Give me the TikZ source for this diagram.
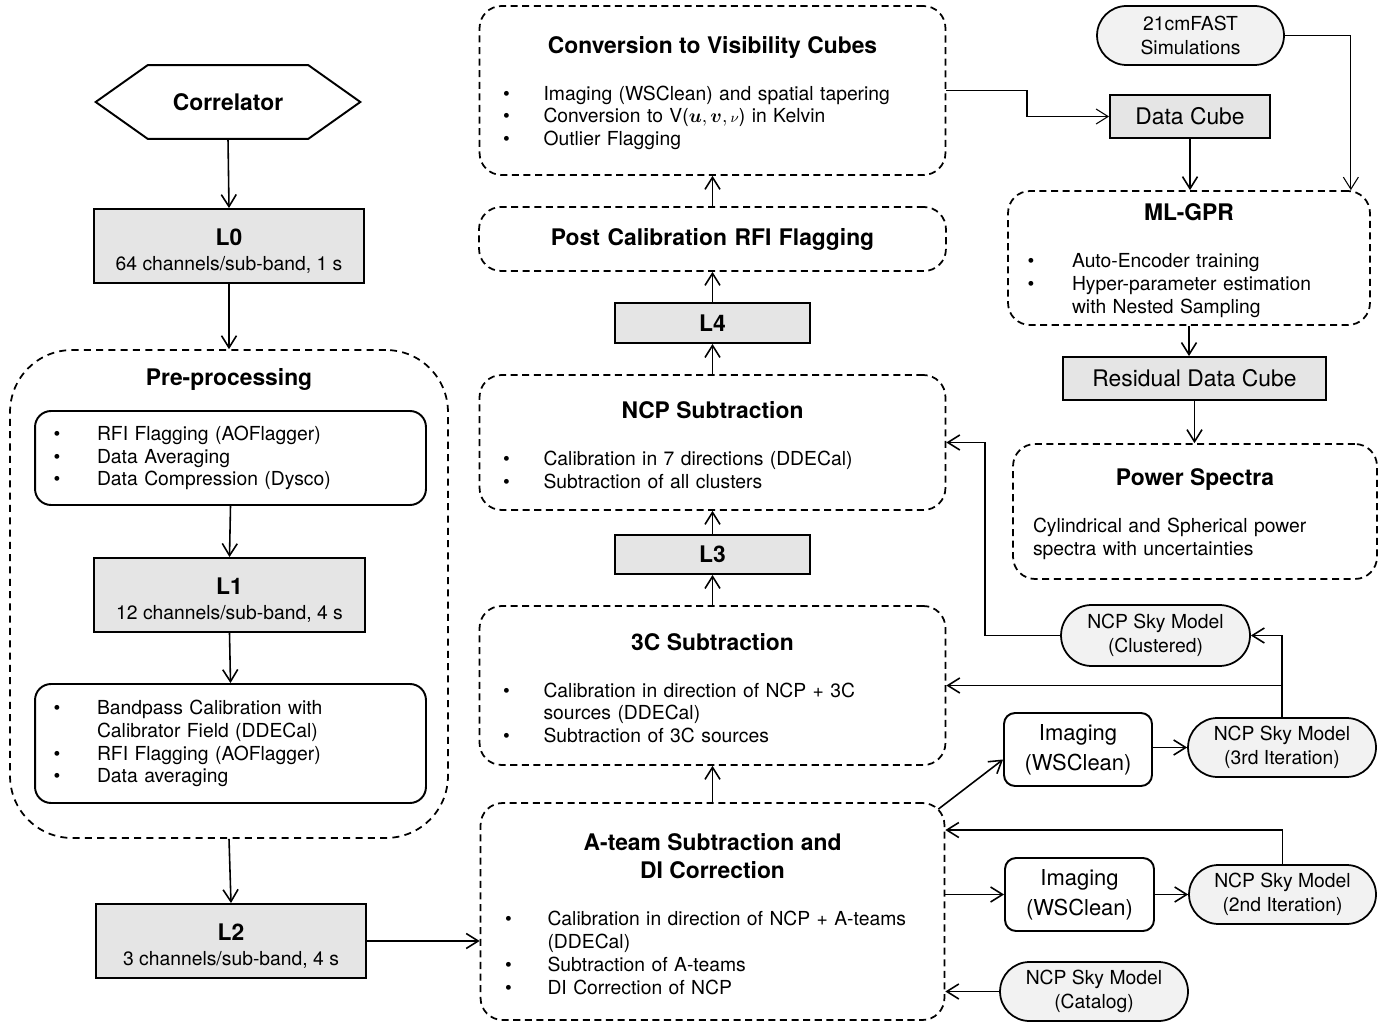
\documentclass[tikz,border=0pt]{standalone}
\usepackage{amsmath,bm}
\usepackage{fontspec}
\setmainfont{TeX Gyre Heros}
\usetikzlibrary{arrows.meta,shapes.misc,calc}

\newlength\bulind \setlength\bulind{0.47cm}
\newlength\bulgap \setlength\bulgap{0.81cm}
\newcommand{\ttlfont}{\fontsize{13}{16}\selectfont\bfseries}
\newcommand{\boxhead}[1]{\makebox[\linewidth]{\ttlfont\rule{0pt}{12.8pt}#1}}
\newcommand{\itm}[1]{\hspace*{\bulind}\makebox[\bulgap][l]{\textbullet}#1}
\newcommand{\contline}[1]{\hspace*{\bulind}\hspace*{\bulgap}#1}

\begin{document}
\begin{tikzpicture}[x=0.02cm, y=-0.02cm,
        font=\fontsize{11}{13}\selectfont,
        stage/.style = {draw, line width=1pt, dash pattern=on 4pt off 2.6pt, rounded corners=0.44cm, inner sep=0pt, align=left},
        level/.style = {draw, fill=gray!20, line width=1.1pt, inner sep=0pt, align=center},
        substep/.style = {draw, line width=1.1pt, rounded corners=0.32cm, inner sep=0pt, align=left},
        imager/.style = {draw, line width=1.1pt, rounded corners=0.22cm, inner sep=0pt, align=center, font=\fontsize{12.5}{17}\selectfont},
        skymodel/.style = {rounded rectangle, draw, fill=gray!10, line width=1pt, inner sep=0pt, align=center, font=\fontsize{11}{13.6}\selectfont},
        flow/.style = {-{Straight Barb[length=2.4mm,width=3mm]}, line width=0.9pt},
        thinflow/.style = {flow, line width=0.6pt}]
        \useasboundingbox (0,0) rectangle (1389,1026);

        % Correlator and pre-processing
        \node[minimum width=5.28cm, minimum height=1.46cm, inner sep=0pt, font=\ttlfont] (corr) at (228,102) {Correlator};
        \draw[line width=1.1pt] (corr.west) -- ([xshift=1.04cm]corr.north west) -- ([xshift=-1.04cm]corr.north east)
            -- (corr.east) -- ([xshift=-1.04cm]corr.south east) -- ([xshift=1.04cm]corr.south west) -- cycle;
        \node[level, minimum width=5.4cm, minimum height=1.48cm] (L0) at (229,246) {{\ttlfont\rule{0pt}{15pt}L0}\\[1.2pt]64 channels/sub-band, 1 s};

        \node[stage, rounded corners=1.24cm, dash pattern=on 4pt off 3pt, minimum width=8.76cm, minimum height=9.76cm] (pre) at (229,594) {};
        \node[font=\ttlfont] (pretitle) at (229,379) {Pre-processing};
        \node[substep, text width=7.82cm, minimum height=1.88cm] (pre1) at (230.5,458) {\setlength\bulind{0.37cm}\setlength\bulgap{0.87cm}%
            \itm{RFI Flagging (AOFlagger)}\\ \itm{Data Averaging}\\ \itm{Data Compression (Dysco)}};
        \node[level, minimum width=5.42cm, minimum height=1.48cm] (L1) at (229.5,595) {{\ttlfont\rule{0pt}{15pt}L1}\\[1.2pt]12 channels/sub-band, 4 s};
        \node[substep, text width=7.82cm, minimum height=2.38cm] (pre2) at (230.5,743.5) {\setlength\bulind{0.37cm}\setlength\bulgap{0.87cm}%
            \itm{Bandpass Calibration with}\\ \contline{Calibrator Field (DDECal)}\\ \itm{RFI Flagging (AOFlagger)}\\ \itm{Data averaging}};
        \node[level, minimum width=5.4cm, minimum height=1.48cm] (L2) at (231,941) {{\ttlfont\rule{0pt}{15pt}L2}\\[1.2pt]3 channels/sub-band, 4 s};

        % Calibration stages
        \node[stage, text width=9.32cm, minimum height=3.38cm] (conv) at (712.5,90.5) {\boxhead{Conversion to Visibility Cubes}\\[13.6pt]
            \itm{Imaging (WSClean) and spatial tapering}\\ \itm{Conversion to V($\bm{u},\bm{v},{\scriptstyle\nu}$) in Kelvin}\\ \itm{Outlier Flagging}};
        \node[stage, text width=9.34cm, minimum height=1.28cm, align=center, font=\ttlfont] (post) at (712.5,239) {Post Calibration RFI Flagging};
        \node[level, minimum width=3.9cm, minimum height=0.8cm, font=\ttlfont] (L4) at (712.5,323) {L4};
        \node[stage, text width=9.32cm, minimum height=2.7cm] (ncp) at (712.5,442.5) {\boxhead{NCP Subtraction}\\[13.6pt]
            \itm{Calibration in 7 directions (DDECal)}\\ \itm{Subtraction of all clusters}};
        \node[level, minimum width=3.9cm, minimum height=0.78cm, font=\ttlfont] (L3) at (712.5,554.5) {L3};
        \node[stage, text width=9.32cm, minimum height=3.18cm] (c3) at (712.5,685.5) {\boxhead{3C Subtraction}\\[13.6pt]
            \itm{Calibration in direction of NCP + 3C}\\ \contline{sources (DDECal)}\\ \itm{Subtraction of 3C sources}};
        \node[stage, text width=9.28cm, minimum height=4.34cm] (ateam) at (712.5,911.5) {\setlength\bulind{0.49cm}\setlength\bulgap{0.85cm}%
            \boxhead{A-team Subtraction and}\\[2.9pt] \makebox[\linewidth]{\ttlfont DI Correction}\\[13.6pt]
            \itm{Calibration in direction of NCP + A-teams}\\ \contline{(DDECal)}\\ \itm{Subtraction of A-teams}\\ \itm{DI Correction of NCP}};

        % Signal extraction
        \node[skymodel, minimum width=3.74cm, minimum height=1.18cm] (sim) at (1190.5,35.5) {21cmFAST\\Simulations};
        \node[level, minimum width=3.2cm, minimum height=0.86cm, font=\fontsize{13}{16}\selectfont] (cube) at (1190,116.5) {Data Cube};
        \node[stage, text width=7.24cm, minimum height=2.68cm] (mlgpr) at (1189,258) {\setlength\bulind{0.39cm}\setlength\bulgap{0.89cm}%
            \boxhead{ML-GPR}\\[13.6pt] \itm{Auto-Encoder training}\\ \itm{Hyper-parameter estimation}\\ \contline{with Nested Sampling}};
        \node[level, minimum width=5.26cm, minimum height=0.86cm, font=\fontsize{13}{16}\selectfont] (resid) at (1194.5,378.5) {Residual Data Cube};
        \node[stage, text width=7.28cm, minimum height=2.7cm] (pspec) at (1195,511.5) {\boxhead{Power Spectra}\\[13.6pt]
            \hspace*{0.4cm}Cylindrical and Spherical power\\ \hspace*{0.4cm}spectra with uncertainties};

        % Sky models and imaging
        \node[skymodel, minimum width=3.78cm, minimum height=1.22cm] (skyclu) at (1155.5,635.5) {NCP Sky Model\\(Clustered)};
        \node[imager, minimum width=2.96cm, minimum height=1.46cm] (img1) at (1078,749.5) {Imaging\\(WSClean)};
        \node[skymodel, minimum width=3.76cm, minimum height=1.18cm] (sky3) at (1282,747.5) {NCP Sky Model\\(3rd Iteration)};
        \node[imager, minimum width=2.98cm, minimum height=1.46cm] (img2) at (1079.5,894.5) {Imaging\\(WSClean)};
        \node[skymodel, minimum width=3.74cm, minimum height=1.18cm] (sky2) at (1282.5,894.5) {NCP Sky Model\\(2nd Iteration)};
        \node[skymodel, minimum width=3.76cm, minimum height=1.18cm] (skycat) at (1094,991.5) {NCP Sky Model\\(Catalog)};

        % Data flow
        \draw[flow] (corr.south) -- (L0.north);
        \draw[flow] (L0.south) -- (pre.north);
        \draw[flow] (pre1.south) -- (L1.north);
        \draw[flow] (L1.south) -- (pre2.north);
        \draw[flow] (pre.south) -- (L2.north);
        \draw[flow] (L2.east) -- (L2.east -| ateam.west);
        \foreach \a/\b in {ateam/c3, c3/L3, L3/ncp, ncp/L4, L4/post, post/conv}
            \draw[flow] (\a.north) -- (\b.south);

        \coordinate (bendC) at (1027,90.5);
        \draw[thinflow] (conv.east) -- (bendC) |- (cube.west);
        \draw[thinflow] (sim.east) -| ([xshift=-0.4cm]mlgpr.north east);
        \draw[flow] (cube.south) -- (cube.south |- mlgpr.north);
        \draw[flow] (mlgpr.south) -- (mlgpr.south |- resid.north);
        \draw[flow] (resid.south) -- (resid.south |- pspec.north);

        % Sky model feedback
        \coordinate (bendN) at (985,442.5);
        \draw[flow] (skyclu.west) -| (bendN) -- (ncp.east);
        \draw[flow] (sky3.north) |- (skyclu.east);
        \draw[flow] (sky3.north) |- (c3.east);
        \draw[flow] (sky2.north) |- ([yshift=1.63cm]ateam.east);
        \draw[flow] ($(ateam.north east)+(-7,7)$) -- ([yshift=-0.2cm]img1.west);
        \draw[flow] (img1.east |- sky3.west) -- (sky3.west);
        \draw[flow] (img2.west -| ateam.east) -- (img2.west);
        \draw[flow] (img2.east) -- (sky2.west);
        \draw[flow] (skycat.west) -- (skycat.west -| ateam.east);
    \end{tikzpicture}
\end{document}
